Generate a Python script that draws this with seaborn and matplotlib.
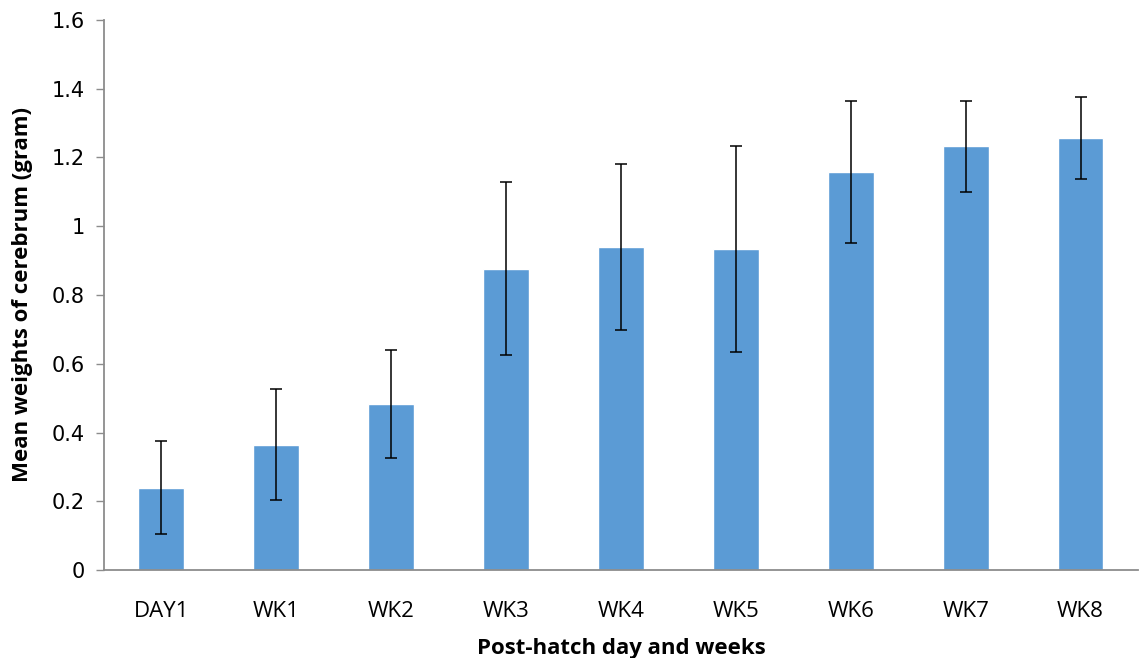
"""Mean cerebrum weight by post-hatch age, bar chart with error bars."""

import matplotlib

matplotlib.use("Agg")
import matplotlib.pyplot as plt
import matplotlib.font_manager as fm
import numpy as np
import pandas as pd
import seaborn as sns

ages = ["DAY1", "WK1", "WK2", "WK3", "WK4", "WK5", "WK6", "WK7", "WK8"]
mean_weight = [0.24, 0.365, 0.482, 0.877, 0.939, 0.934, 1.158, 1.232, 1.256]
sd_weight = [0.134, 0.162, 0.157, 0.251, 0.241, 0.299, 0.206, 0.133, 0.12]

sns.set_theme(style="white")

names = {f.name for f in fm.fontManager.ttflist}
family = "Liberation Sans Narrow" if "Liberation Sans Narrow" in names else "Open Sans"
plt.rcParams["font.family"] = [family, "DejaVu Sans"]
plt.rcParams["text.color"] = "black"
plt.rcParams["axes.labelcolor"] = "black"
plt.rcParams["xtick.labelcolor"] = "black"
plt.rcParams["ytick.labelcolor"] = "black"

df = pd.DataFrame({"age": ages, "weight": mean_weight, "sd": sd_weight})

fig = plt.figure(figsize=(11.4, 6.58), dpi=100)
ax = fig.add_axes([0.0912, 0.1337, 0.907, 0.836])

sns.barplot(data=df, x="age", y="weight", color="#5B9BD5", saturation=1,
            width=0.4, errorbar=None, ax=ax)
ax.errorbar(np.arange(len(ages)), df["weight"], yerr=df["sd"], fmt="none",
            ecolor="black", elinewidth=1.1, capsize=4.3, capthick=1.1)

ax.set_xlim(-0.5, len(ages) - 0.5)
ax.set_ylim(0, 1.6)
ax.set_yticks(np.arange(0, 1.61, 0.2))
ax.set_yticklabels(["0", "0.2", "0.4", "0.6", "0.8", "1", "1.2", "1.4", "1.6"],
                   fontsize=15, family=["DejaVu Sans"])

# ticks sit on category boundaries, labels stay centred
ax.set_xticks(np.arange(len(ages)))
ax.set_xticklabels(ages, fontsize=16)
ax.set_xticks(np.arange(-0.5, len(ages)), minor=True)
ax.tick_params(axis="x", which="major", length=0, pad=22, labelcolor="black")
ax.tick_params(axis="x", which="minor", length=8, width=1, color="#8C8C8C", direction="out")
ax.tick_params(axis="y", length=6, width=1, color="#8C8C8C", direction="out", pad=8,
               left=True, labelcolor="black")

for side in ["top", "right"]:
    ax.spines[side].set_visible(False)
for side in ["left", "bottom"]:
    ax.spines[side].set_color("#8C8C8C")
    ax.spines[side].set_linewidth(1.3)

ax.set_xlabel("Post-hatch day and weeks", fontsize=16, fontweight="bold", labelpad=12, color="black")
ax.set_ylabel("Mean weights of cerebrum (gram)", fontsize=16, fontweight="bold", labelpad=13, color="black")

fig.savefig("out.png", dpi=100)
